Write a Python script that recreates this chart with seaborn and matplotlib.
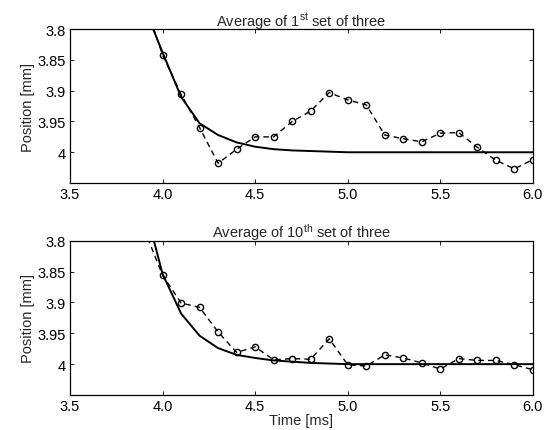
import matplotlib
matplotlib.use("Agg")
import matplotlib.pyplot as plt
import seaborn as sns
import pandas as pd

# measured samples (time in ms, position in mm)
time = [3.9, 4.0, 4.1, 4.2, 4.3, 4.4, 4.5, 4.6, 4.7, 4.8, 4.9, 5.0,
        5.1, 5.2, 5.3, 5.4, 5.5, 5.6, 5.7, 5.8, 5.9, 6.0]

first_meas = [3.753, 3.842, 3.906, 3.960, 4.018, 3.995, 3.975, 3.975, 3.950, 3.933, 3.903, 3.915,
              3.923, 3.972, 3.978, 3.983, 3.969, 3.968, 3.992, 4.013, 4.027, 4.012]
first_fit = [3.763, 3.838, 3.910, 3.953, 3.972, 3.984, 3.991, 3.995, 3.997, 3.998, 3.999, 4.000,
             4.000, 4.000, 4.000, 4.000, 4.000, 4.000, 4.000, 4.000, 4.000, 4.000]

tenth_meas = [3.781, 3.856, 3.901, 3.908, 3.948, 3.981, 3.972, 3.993, 3.991, 3.992, 3.959, 4.001,
              4.003, 3.985, 3.990, 3.998, 4.008, 3.991, 3.994, 3.994, 4.001, 4.009]
tenth_fit = [3.739, 3.854, 3.918, 3.954, 3.974, 3.985, 3.990, 3.994, 3.996, 3.998, 3.999, 4.000,
             4.000, 4.000, 4.000, 4.000, 4.000, 4.000, 4.000, 4.000, 4.000, 4.000]

titles = ["Average of 1$^{st}$ set of three", "Average of 10$^{th}$ set of three"]
xticks = [3.5, 4.0, 4.5, 5.0, 5.5, 6.0]
yticks = [3.8, 3.85, 3.9, 3.95, 4.0]
ytick_labels = ["3.8", "3.85", "3.9", "3.95", "4"]

sns.set_theme(style="ticks")
plt.rcParams["font.family"] = ["Liberation Sans", "DejaVu Sans"]
plt.rcParams["mathtext.default"] = "regular"
fs = 10.5

fig = plt.figure(figsize=(5.53, 4.31), dpi=100)
ax1 = fig.add_axes([0.1266, 0.573, 0.837, 0.357])
ax2 = fig.add_axes([0.1266, 0.0812, 0.837, 0.358])

sets = [(ax1, first_meas, first_fit, titles[0]), (ax2, tenth_meas, tenth_fit, titles[1])]
for ax, meas, fit, title in sets:
    df = pd.DataFrame({"time": time, "meas": meas, "fit": fit})
    sns.lineplot(data=df, x="time", y="fit", ax=ax, color="black", linewidth=1.4)
    sns.lineplot(data=df, x="time", y="meas", ax=ax, color="black", linewidth=1.0,
                 linestyle=(0, (4, 3)), marker="o", markersize=4.5,
                 markerfacecolor="none", markeredgecolor="black", markeredgewidth=1.0)
    ax.set_xlim(3.5, 6.0)
    ax.set_ylim(4.05, 3.8)
    ax.set_xticks(xticks)
    ax.set_xticklabels([f"{t:.1f}" for t in xticks])
    ax.set_yticks(yticks)
    ax.set_yticklabels(ytick_labels)
    ax.tick_params(direction="in", length=3, width=0.6, labelsize=fs, colors="black",
                   top=True, right=True, pad=3)
    for sp in ax.spines.values():
        sp.set_visible(True)
        sp.set_linewidth(0.9)
        sp.set_color("black")
    ax.set_title(title, fontsize=fs, pad=3)
    ax.set_ylabel("Position [mm]", fontsize=fs, labelpad=2)
    ax.set_xlabel("")

ax2.set_xlabel("Time [ms]", fontsize=fs, labelpad=0)

fig.savefig("out.png", dpi=100, facecolor="white")
